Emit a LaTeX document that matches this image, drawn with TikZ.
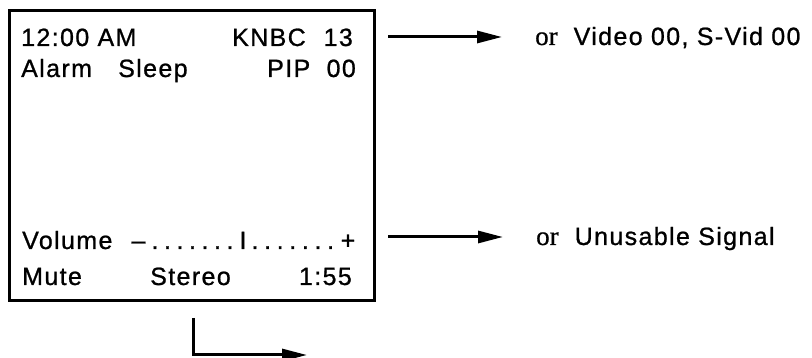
\documentclass[tikz,border=0pt]{standalone}
\usepackage{fontspec}
\setmainfont[UprightFeatures={FakeBold=0.6}]{Liberation Serif}
\setsansfont[LetterSpace=5.5, UprightFeatures={FakeBold=0.9}]{Liberation Sans}
\usepackage{tikz}
\usetikzlibrary{arrows.meta,positioning}

\begin{document}
\begin{tikzpicture}[
    x=1pt, y=-1pt,
    osd/.style={font=\sffamily\fontsize{25}{30}\selectfont, inner sep=0pt, anchor=base west},
    osdr/.style={osd, anchor=base east},
    osdc/.style={osd, anchor=base},
    note/.style={osd},
    pointer/.style={line width=3pt, -{Triangle[length=25pt, width=12pt]}},
    >=Stealth
]
\useasboundingbox (0,0) rectangle (812,358);

\node[draw, line width=3pt, inner sep=0pt, anchor=north west,
    minimum width=365pt, minimum height=290pt] (screen) at (8,9) {};

\node[osd] (clock) at (21,46) {12:00 AM};
\node[osd] (station) at (232,46) {KNBC};
\node[osdr] (channel) at (353,46) {13};
\node[osd] (alarm) at (21,77) {Alarm};
\node[osd] (sleep) at (118,77) {Sleep};
\node[osd] (pip) at (267,77) {PIP};
\node[osdr] (pipnum) at (356,77) {00};

\node[osd] (volume) at (22,249) {Volume};
\node[osdc] (minus) at (138.5,249) {–};
\foreach \i in {0,...,6}
    \node[osdc] (dotl\i) at (155+12.5*\i,249) {.};
\node[osdc] (level) at (243,249) {I};
\foreach \i in {0,...,6}
    \node[osdc] (dotr\i) at (255+12.6*\i,249) {.};
\node[osdc] (plus) at (348,249) {+};
\node[osd] (mute) at (22,285) {Mute};
\node[osd] (stereo) at (150,285) {Stereo};
\node[osdr] (timer) at (352,285) {1:55};

\node[note] (videonote) at (535,45) {{\rmfamily\fontsize{27}{30}\selectfont or}\hspace{16pt}Video 00, S-Vid 00};
\node[note] (signalnote) at (536,245) {{\rmfamily\fontsize{27}{30}\selectfont or}\hspace{16pt}Unusable Signal};

\coordinate (videotail) at (388,37);
\coordinate (signaltail) at (388,237);
\coordinate (menutail) at (193,318);
\coordinate (menuhead) at (307,355);

\draw[pointer, shorten >=33pt] (videotail) -- (videotail -| videonote.west);
\draw[pointer, shorten >=33pt] (signaltail) -- (signaltail -| signalnote.west);
\draw[pointer] (menutail) |- (menuhead);
\end{tikzpicture}
\end{document}
